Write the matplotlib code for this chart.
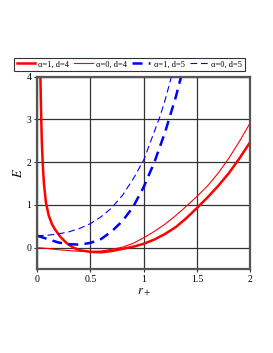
import numpy as np
import matplotlib
matplotlib.use("Agg")
import matplotlib.pyplot as plt

plt.rcParams['font.family'] = ['Liberation Serif', 'DejaVu Serif']
plt.rcParams['mathtext.fontset'] = 'stix'

# alpha=1, d=4 (thick red)
r_a1d4 = [0.032, 0.038, 0.045, 0.055, 0.065, 0.084, 0.11, 0.14, 0.17, 0.22, 0.28, 0.34,
          0.4, 0.5, 0.6, 0.7, 0.8, 0.9, 1.0, 1.1, 1.2, 1.3, 1.4, 1.5, 1.6, 1.7, 1.8, 1.9, 2.0]
E_a1d4 = [4.0, 3.2, 2.5, 1.9, 1.5, 1.05, 0.75, 0.55, 0.42, 0.25, 0.1, 0.0,
          -0.06, -0.1, -0.11, -0.08, -0.03, 0.02, 0.09, 0.19, 0.32, 0.48, 0.69, 0.93, 1.18, 1.45, 1.75, 2.1, 2.48]

# alpha=0, d=4 (thin red)
r_a0d4 = [0.0, 0.1, 0.2, 0.3, 0.4, 0.5, 0.6, 0.7, 0.8, 0.9, 1.0, 1.1, 1.2, 1.3, 1.4, 1.5,
          1.6, 1.7, 1.8, 1.9, 2.0]
E_a0d4 = [0.0, -0.02, -0.05, -0.07, -0.085, -0.09, -0.08, -0.04, 0.01, 0.1, 0.23, 0.38, 0.55,
          0.75, 0.97, 1.2, 1.45, 1.75, 2.1, 2.5, 2.93]

# alpha=1, d=5 (thick blue dashed)
r_a1d5 = [0.0, 0.1, 0.2, 0.3, 0.4, 0.5, 0.6, 0.7, 0.8, 0.9, 1.0, 1.1, 1.2, 1.3, 1.35]
E_a1d5 = [0.28, 0.2, 0.12, 0.08, 0.07, 0.11, 0.2, 0.38, 0.62, 0.95, 1.42, 2.0, 2.7, 3.52, 4.0]

# alpha=0, d=5 (thin blue dashed)
r_a0d5 = [0.0, 0.1, 0.2, 0.3, 0.4, 0.5, 0.6, 0.7, 0.8, 0.9, 1.0, 1.1, 1.15, 1.2, 1.26]
E_a0d5 = [0.28, 0.29, 0.32, 0.37, 0.45, 0.56, 0.72, 0.93, 1.22, 1.6, 2.05, 2.72, 3.05, 3.45, 4.0]

fig = plt.figure(figsize=(2.73, 3.53), dpi=100)
ax = fig.add_axes([0.1355, 0.238, 0.782, 0.545])

ax.plot(r_a1d4, E_a1d4, color='#ff0000', lw=1.8, label=r'α=1, d=4')
ax.plot(r_a0d4, E_a0d4, color='#ff0000', lw=0.8, label=r'α=0, d=4')
ax.plot(r_a1d5, E_a1d5, color='#0000ff', lw=1.8, dashes=(4, 2.5), label=r'α=1, d=5')
ax.plot(r_a0d5, E_a0d5, color='#0000ff', lw=0.8, dashes=(6, 3.5), label=r'α=0, d=5')

ax.set_xlim(0, 2)
ax.set_ylim(-0.5, 4)
ax.set_xticks([0, 0.5, 1, 1.5, 2])
ax.set_xticklabels(['0', '0.5', '1', '1.5', '2'])
ax.set_yticks([0, 1, 2, 3, 4])
ax.grid(True, color='#333333', lw=0.9)
ax.set_axisbelow(True)
ax.tick_params(labelsize=7, length=2, width=0.8, pad=2, colors='#333333')
ax.tick_params(labelcolor='black')
for s in ax.spines.values():
    s.set_color('#555555')
    s.set_linewidth(1.6)

ax.set_xlabel(r'$r_+$', fontsize=9, labelpad=2)
ax.set_ylabel(r'$E$', fontsize=9, labelpad=1)

leg = ax.legend(loc='lower center', bbox_to_anchor=(0.433, 1.03), ncol=4, fontsize=6,
                frameon=True, fancybox=False, edgecolor='black', handlelength=2.2,
                handletextpad=0.4, columnspacing=0.6, borderpad=0.3, borderaxespad=0)
leg.get_frame().set_linewidth(0.8)

fig.savefig('out.png', dpi=100)
